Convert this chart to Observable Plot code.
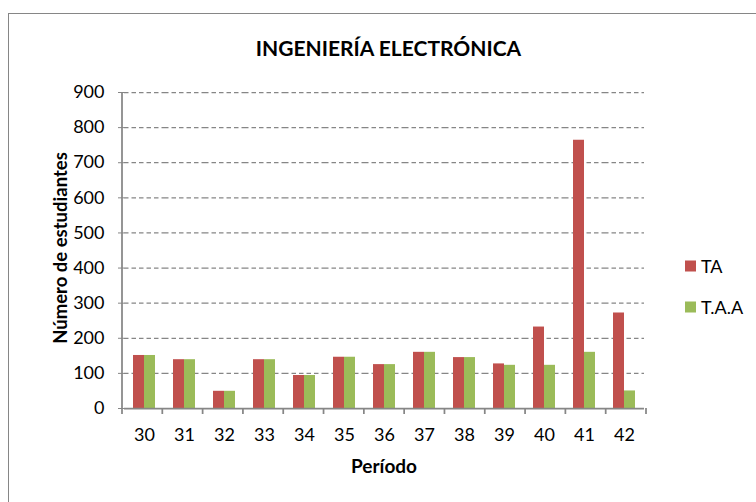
<!DOCTYPE html>
<html>
<head>
<meta charset="utf-8">
<script src="https://cdn.jsdelivr.net/npm/d3@7"></script>
<script src="https://cdn.jsdelivr.net/npm/@observablehq/plot@0.6"></script>
<style>
html, body { margin: 0; padding: 0; background: #fff; overflow: hidden; }
#wrap { position: relative; width: 756px; height: 502px; overflow: hidden; font-family: Lato, sans-serif; }
#frame { position: absolute; left: 8px; top: 13px; width: 900px; height: 700px; border: 1px solid #868686; box-sizing: border-box; }
#chart { position: absolute; left: 0; top: 0; }
#chart svg text { fill: #000; }
</style>
</head>
<body>
<div id="wrap"><div id="frame"></div><div id="chart"></div></div>
<script>
const periods = ["30","31","32","33","34","35","36","37","38","39","40","41","42"];
const seriesNames = ["TA", "T.A.A"];
const valuesTA  = [151, 139, 49, 139, 94, 146, 125, 160, 145, 127, 232, 764, 272];
const valuesTAA = [151, 139, 49, 139, 94, 146, 125, 160, 145, 123, 123, 160, 50];
const seriesColors = ["#C0504D", "#9BBB59"];
const yTicks = [0, 100, 200, 300, 400, 500, 600, 700, 800, 900];
const gridValues = [100, 200, 300, 400, 500, 600, 700, 800, 900];
const titleText = "INGENIERÍA ELECTRÓNICA";
const yLabelText = "Número de estudiantes";
const xLabelText = "Período";

const data = periods.flatMap((p, i) => [
  {period: p, series: seriesNames[0], value: valuesTA[i]},
  {period: p, series: seriesNames[1], value: valuesTAA[i]}
]);

const axisGray = "#868686";

const plot = Plot.plot({
  width: 756,
  height: 502,
  marginLeft: 122,
  marginRight: 110,
  marginTop: 92,
  marginBottom: 94,
  style: {fontFamily: "Lato, sans-serif", fontSize: "18px", color: axisGray, background: "transparent", overflow: "visible"},
  fx: {domain: periods, padding: 0, axis: "bottom", label: null, tickSize: 0, tickPadding: 20},
  x: {domain: seriesNames, paddingInner: 0, paddingOuter: 0.75, axis: null},
  y: {domain: [0, 900], ticks: yTicks, tickSize: 6, tickPadding: 14, label: null},
  color: {domain: seriesNames, range: seriesColors},
  marks: [
    Plot.ruleY(gridValues, {stroke: axisGray, strokeDasharray: "4.5,3", strokeWidth: 1.25}),
    Plot.barY(data, {fx: "period", x: "series", y: "value", fill: "series"}),
    Plot.ruleY([0], {stroke: axisGray, strokeWidth: 1.75})
  ]
});

document.getElementById("chart").appendChild(plot);

const svg = d3.select(plot);
const fxS = plot.scale("fx");
const yS = plot.scale("y");
const [fx0, fx1] = fxS.range;
const step = (fx1 - fx0) / periods.length;
const y0 = yS.apply(0), yTop = yS.apply(900);

const g = svg.append("g").attr("stroke", axisGray).attr("stroke-width", 1.75);
g.append("line").attr("x1", fx0).attr("x2", fx0).attr("y1", yTop).attr("y2", y0);
for (let i = 0; i <= periods.length; i++) {
  const x = fx0 + i * step;
  g.append("line").attr("x1", x).attr("x2", x).attr("y1", y0).attr("y2", y0 + 6);
}

const t = svg.append("g").attr("font-family", "Lato, sans-serif").attr("fill", "#000");
t.append("text").attr("x", 388.5).attr("y", 56).attr("text-anchor", "middle")
  .attr("font-size", 21).attr("font-weight", "bold").text(titleText);
t.append("text").attr("x", 384).attr("y", 473).attr("text-anchor", "middle")
  .attr("font-size", 19).attr("font-weight", "bold").text(xLabelText);
t.append("text").attr("transform", "translate(67,248) rotate(-90)").attr("text-anchor", "middle")
  .attr("font-size", 18.5).attr("font-weight", "bold").text(yLabelText);

const leg = svg.append("g").attr("font-family", "Lato, sans-serif").attr("font-size", 18);
seriesNames.forEach((s, i) => {
  const cy = 266 + i * 41;
  leg.append("rect").attr("x", 685).attr("y", cy - 5.5).attr("width", 11).attr("height", 11).attr("fill", seriesColors[i]);
  leg.append("text").attr("x", 701).attr("y", cy + 6.5).attr("text-anchor", "start").attr("fill", "#000").text(s);
});
</script>
</body>
</html>
